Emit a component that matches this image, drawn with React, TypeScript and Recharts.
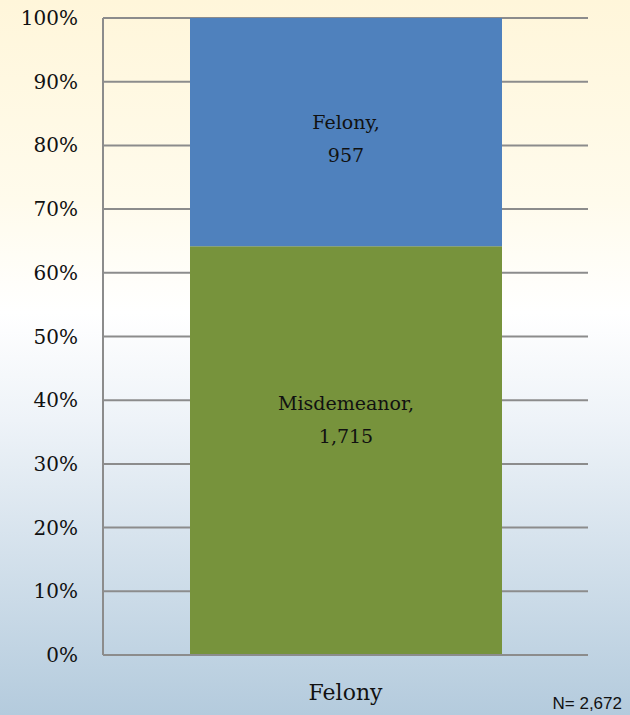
import React from "react";
import { BarChart, Bar, XAxis, YAxis, CartesianGrid, LabelList } from "recharts";

const categories = ["Felony"];
const misdemeanorValues = [1715];
const felonyValues = [957];
const yTicks = [0, 0.1, 0.2, 0.3, 0.4, 0.5, 0.6, 0.7, 0.8, 0.9, 1];
const totalLabel = "N= 2,672";

const data = categories.map((c, i) => ({
  category: c,
  Misdemeanor: misdemeanorValues[i],
  Felony: felonyValues[i],
}));

const SERIF = "'Palatino Linotype', 'Book Antiqua', Palatino, 'DejaVu Serif', serif";

const makeLabel = (name: string, frac: number) => (props: any) => {
  const { x, y, width, height, value } = props;
  const cx = x + width / 2;
  const cy = y + height * frac;
  return (
    <text x={cx} y={cy} textAnchor="middle" fontFamily={SERIF} fontSize={19} fill="#111">
      <tspan x={cx} dy={-8}>{name},</tspan>
      <tspan x={cx} dy={33}>{Number(value).toLocaleString("en-US")}</tspan>
    </text>
  );
};

const XTick = (props: any) => {
  const { x, y, payload } = props;
  return (
    <text x={x} y={y + 37} textAnchor="middle" fontFamily={SERIF} fontSize={22} fill="#111">
      {payload.value}
    </text>
  );
};

const YTick = (props: any) => {
  const { x, y, payload } = props;
  return (
    <text x={x - 17} y={y + 7} textAnchor="end" fontFamily={SERIF} fontSize={20} fill="#111">
      {Math.round(payload.value * 100)}%
    </text>
  );
};

export default function App() {
  return (
    <div
      style={{
        position: "fixed",
        left: 0,
        top: 0,
        width: 630,
        height: 715,
        background:
          "linear-gradient(to bottom, #FFF6DA 0px, #FFFBEC 200px, #FFFFFF 313px, #EEF3F8 420px, #B4CBDD 715px)",
      }}
    >
      <BarChart
        width={630}
        height={715}
        data={data}
        stackOffset="expand"
        margin={{ top: 18, right: 42, bottom: 0, left: 0 }}
        barCategoryGap={0}
      >
        <CartesianGrid vertical={false} stroke="#8C8C8C" strokeWidth={2} />
        <XAxis
          dataKey="category"
          axisLine={{ stroke: "#8C8C8C", strokeWidth: 2 }}
          tickLine={false}
          height={60}
          tick={<XTick />}
        />
        <YAxis
          width={103}
          domain={[0, 1]}
          ticks={yTicks}
          axisLine={{ stroke: "#8C8C8C", strokeWidth: 2 }}
          tickLine={false}
          tick={<YTick />}
          interval={0}
        />
        <Bar dataKey="Misdemeanor" stackId="a" fill="#77933C" barSize={312} isAnimationActive={false}>
          <LabelList dataKey="Misdemeanor" content={makeLabel("Misdemeanor", 0.42)} />
        </Bar>
        <Bar dataKey="Felony" stackId="a" fill="#4F81BD" barSize={312} isAnimationActive={false}>
          <LabelList dataKey="Felony" content={makeLabel("Felony", 0.52)} />
        </Bar>
      </BarChart>
      <div
        style={{
          position: "absolute",
          right: 8,
          bottom: 1,
          fontFamily: "'Liberation Sans', 'Open Sans', sans-serif",
          fontSize: 17,
          color: "#111",
        }}
      >
        {totalLabel}
      </div>
    </div>
  );
}
